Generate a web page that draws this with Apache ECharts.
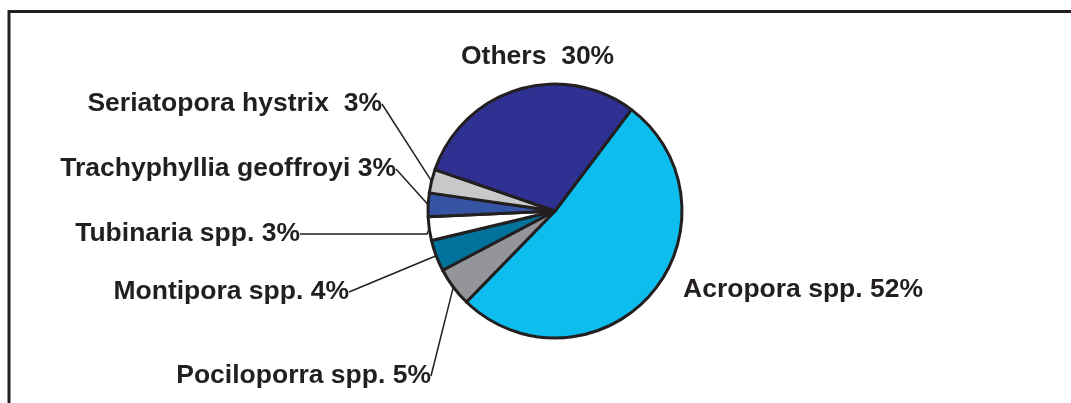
<!DOCTYPE html>
<html>
<head>
<meta charset="utf-8">
<script src="https://cdn.jsdelivr.net/npm/echarts@6/dist/echarts.min.js"></script>
<style>
  html, body { margin: 0; padding: 0; background: #ffffff; }
  #chart { width: 1071px; height: 403px; }
</style>
</head>
<body>
<div id="chart"></div>
<script>
// Coral genera composition (percent of colonies)
const categories = ['Acropora spp.', 'Pociloporra spp.', 'Montipora spp.', 'Tubinaria spp.',
                    'Trachyphyllia geoffroyi', 'Seriatopora hystrix', 'Others'];
const shares = [52, 5, 4, 3, 3, 3, 30];
const labelGaps = [' ', ' ', ' ', ' ', ' ', '  ', '  '];
const sliceColors = ['#0cbdee', '#939598', '#00739c', '#ffffff', '#3554a4', '#c7c8ca', '#2e3192'];

const INK = '#231f20';

// label anchor per slice: [x, y, align]
const labelSpots = [
  [683, 290, 'left'],
  [431, 376, 'right'],
  [349, 292, 'right'],
  [300, 234, 'right'],
  [396, 169, 'right'],
  [382, 104, 'right'],
  [461, 57, 'left']
];
const showGuide = [false, true, true, true, true, true, false];
const guideReach = [0, 0, 0, 127, 0, 0, 0];

const chart = echarts.init(document.getElementById('chart'), null, { renderer: 'canvas' });

const pieData = categories.map((name, i) => ({
  name: name,
  value: shares[i],
  itemStyle: { color: sliceColors[i] },
  labelLine: { show: showGuide[i], length2: guideReach[i] }
}));

chart.setOption({
  animation: false,
  backgroundColor: '#ffffff',
  graphic: [{
    type: 'polyline',
    shape: { points: [[9, 403], [9, 11.5], [1071, 11.5]] },
    style: { stroke: INK, lineWidth: 3, fill: null },
    silent: true
  }],
  series: [{
    type: 'pie',
    center: [555, 211],
    radius: 127,
    startAngle: 53,
    clockwise: true,
    avoidLabelOverlap: false,
    itemStyle: { borderColor: INK, borderWidth: 3 },
    label: {
      show: true,
      position: 'outside',
      color: INK,
      fontFamily: '"Liberation Sans", Arial, Helvetica, sans-serif',
      fontWeight: 'bold',
      fontSize: 26.5,
      formatter: (p) => p.name + labelGaps[p.dataIndex] + p.value + '%'
    },
    labelLine: {
      show: true,
      length: 10,
      length2: 0,
      smooth: false,
      lineStyle: { color: INK, width: 1.5 }
    },
    labelLayout: (params) => {
      const s = labelSpots[params.dataIndex];
      return { x: s[0], y: s[1], align: s[2], verticalAlign: 'middle', hideOverlap: false };
    },
    emphasis: { disabled: true },
    data: pieData
  }]
});
</script>
</body>
</html>
